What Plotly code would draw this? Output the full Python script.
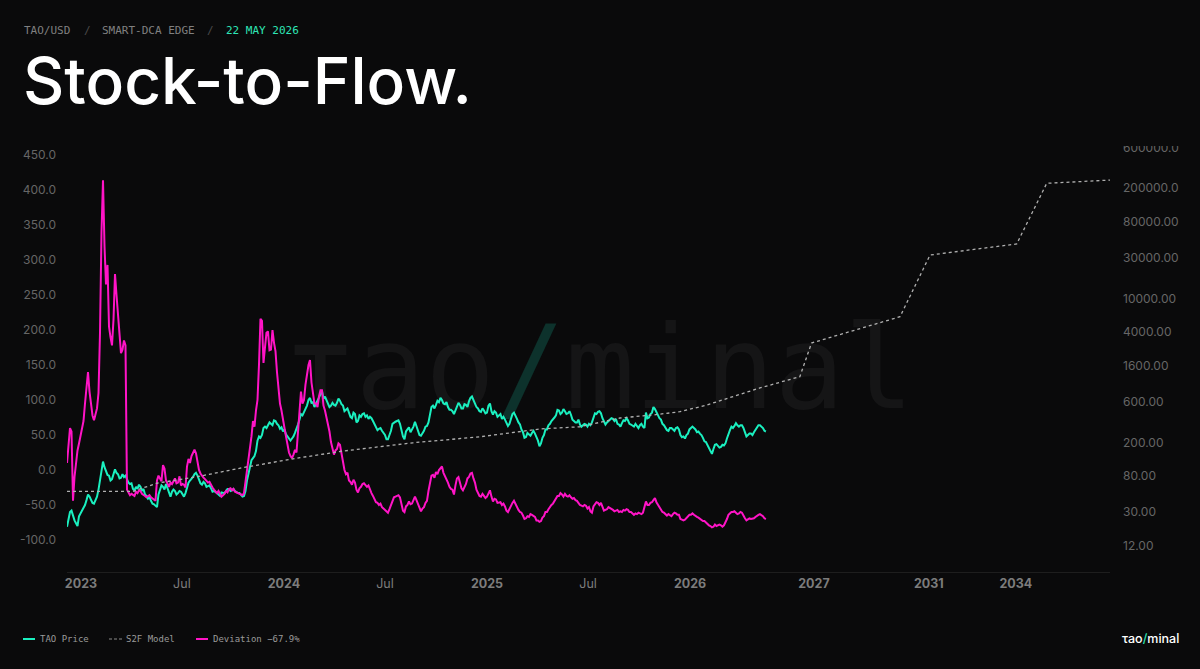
# stock to flow chart, tao/usd

import plotly.graph_objects as go

BG = "#0a0a0b"
TEAL = "#1af0c0"
PINK = "#ff14c6"

# samples, about two per week
tao_price = [
    -81, -68, -60, -58, -66, -72, -76, -80, -66, -62, -60, -56, -50, -43, -35, -38, -42, -47, -48, -44,
    -38, -28, -12, -2, 12, 4, -1, -7, -8, -15, -13, -6, 1, -4, -6, -12, -11, -6, -10, -8,
    -14, -18, -20, -19, -27, -29, -24, -27, -21, -24, -30, -27, -35, -37, -41, -39, -44, -48, -49, -51,
    -53, -35, -27, -22, -24, -28, -20, -26, -35, -38, -31, -28, -30, -35, -33, -30, -31, -35, -38, -33,
    -26, -18, -15, -13, -10, -6, -4, -8, -15, -19, -21, -17, -19, -24, -23, -22, -26, -31, -30, -31,
    -33, -35, -37, -32, -33, -33, -30, -27, -27, -30, -29, -27, -30, -32, -33, -33, -35, -38, -37, -30,
    -15, -6, 3, 14, 17, 20, 27, 42, 48, 46, 50, 60, 62, 60, 64, 68, 66, 64, 71, 70,
    66, 64, 59, 61, 55, 58, 51, 48, 46, 42, 45, 48, 53, 58, 65, 72, 80, 78, 83, 88,
    92, 100, 103, 96, 97, 90, 94, 100, 103, 108, 113, 102, 105, 100, 95, 90, 92, 96, 93, 92,
    96, 102, 99, 94, 92, 84, 86, 88, 82, 76, 74, 82, 80, 68, 70, 78, 76, 80, 81, 76,
    78, 73, 76, 74, 70, 65, 61, 57, 59, 60, 56, 53, 50, 44, 44, 50, 56, 66, 68, 69,
    70, 71, 66, 56, 48, 44, 55, 58, 61, 54, 58, 62, 69, 63, 58, 50, 49, 52, 56, 62,
    63, 68, 78, 90, 92, 88, 93, 99, 97, 103, 100, 95, 94, 97, 90, 86, 86, 84, 80, 85,
    92, 96, 93, 88, 88, 94, 93, 90, 98, 103, 105, 100, 97, 90, 88, 84, 83, 88, 85, 81,
    82, 92, 95, 84, 79, 84, 82, 76, 78, 80, 73, 76, 72, 66, 63, 66, 73, 80, 82, 76,
    73, 68, 65, 58, 54, 46, 47, 53, 51, 49, 53, 56, 52, 47, 42, 34, 38, 46, 50, 58,
    58, 64, 66, 70, 72, 75, 78, 86, 85, 80, 82, 87, 84, 80, 81, 84, 79, 72, 70, 68,
    68, 72, 65, 62, 64, 66, 65, 62, 66, 64, 68, 75, 81, 80, 83, 84, 81, 74, 70, 65,
    68, 70, 71, 74, 73, 70, 73, 66, 65, 62, 67, 71, 70, 74, 71, 66, 65, 63, 62, 66,
    63, 60, 64, 66, 62, 60, 82, 74, 75, 80, 82, 90, 87, 82, 78, 74, 72, 66, 64, 60,
    57, 56, 60, 60, 58, 56, 60, 61, 58, 50, 47, 48, 45, 50, 52, 58, 60, 62, 60, 58,
    54, 55, 52, 50, 46, 41, 40, 36, 30, 28, 23, 30, 36, 37, 35, 32, 33, 36, 35, 38,
    45, 52, 57, 62, 60, 63, 67, 64, 62, 64, 64, 60, 55, 48, 50, 52, 52, 50, 54, 57,
    60, 64, 64, 62, 60, 56, 55,
]

deviation = [
    10, 42, 60, 55, -44, -10, 10, 28, 38, 50, 62, 70, 95, 118, 140, 112, 95, 78, 71, 80,
    88, 110, 196, 340, 414, 320, 265, 293, 205, 190, 178, 215, 280, 250, 220, 200, 167, 172, 185, 178,
    -28, -32, -36, -34, -35, -37, -31, -33, -29, -30, -34, -35, -37, -39, -37, -36, -39, -41, -42, -44,
    -15, -8, -12, -16, 7, 2, -15, -20, -24, -18, -20, -16, -12, -19, -18, -9, -22, -20, -21, -25,
    5, 16, 10, 20, 25, 29, 24, 12, 0, -5, -9, -11, -13, -15, -18, -17, -22, -25, -28, -30,
    -33, -30, -35, -38, -36, -34, -30, -32, -27, -26, -29, -27, -31, -32, -33, -34, -35, -36, -33, -18,
    0, 12, 30, 48, 70, 62, 85, 100, 150, 216, 213, 153, 175, 196, 198, 171, 172, 200, 182, 170,
    140, 118, 95, 85, 70, 60, 48, 35, 25, 20, 17, 22, 29, 25, 50, 80, 112, 95, 100, 122,
    140, 150, 157, 125, 110, 95, 95, 90, 105, 114, 114, 92, 85, 76, 65, 55, 40, 30, 22, 28,
    30, 38, 36, 24, 10, 0, -6, -4, -15, -17, -21, -14, -18, -28, -32, -26, -24, -20, -19, -22,
    -24, -22, -29, -33, -37, -42, -46, -47, -50, -48, -53, -55, -57, -60, -61, -56, -50, -42, -39, -38,
    -37, -36, -39, -50, -58, -60, -52, -50, -45, -49, -48, -43, -38, -43, -48, -55, -59, -55, -53, -47,
    -44, -30, -20, -8, -7, -11, -3, -6, 0, 2, 5, -4, -8, -14, -18, -24, -27, -28, -35, -22,
    -12, -10, -20, -26, -29, -24, -20, -12, -10, -5, -4, -12, -18, -28, -33, -37, -38, -34, -37, -40,
    -38, -32, -29, -38, -45, -41, -42, -47, -47, -46, -50, -48, -52, -58, -60, -55, -52, -47, -44, -49,
    -52, -57, -60, -61, -65, -70, -69, -66, -67, -63, -64, -66, -67, -72, -72, -74, -73, -68, -66, -60,
    -60, -56, -52, -50, -48, -44, -42, -37, -37, -33, -35, -38, -34, -37, -38, -36, -39, -41, -40, -43,
    -44, -47, -50, -51, -52, -50, -51, -55, -53, -59, -61, -52, -48, -46, -47, -50, -47, -52, -58, -57,
    -56, -53, -54, -56, -57, -59, -58, -57, -60, -59, -60, -57, -58, -56, -57, -60, -60, -62, -64, -62,
    -63, -61, -62, -63, -61, -52, -45, -50, -50, -47, -46, -43, -40, -46, -50, -54, -56, -60, -61, -63,
    -65, -63, -64, -66, -63, -61, -62, -64, -64, -70, -71, -72, -71, -69, -67, -64, -64, -62, -64, -66,
    -67, -68, -70, -72, -73, -73, -75, -78, -79, -80, -82, -81, -78, -80, -79, -78, -79, -81, -79, -75,
    -70, -64, -62, -60, -60, -59, -61, -63, -62, -60, -61, -66, -69, -72, -71, -69, -70, -70, -69, -67,
    -65, -64, -63, -64, -66, -69, -70,
]

# s2f model runs on past the price and is only kinked at these samples
s2f_index = [0, 44, 60, 88.6, 120, 155.4, 184, 230.6, 275.4, 315.4, 342, 368.6,
             390.6, 408.6, 426.6, 444, 462, 488.6, 496.4, 555.4, 575.4, 633.2,
             653.2, 695.4]
s2f_model = [53, 53, 66, 80, 103, 132, 158, 198, 233, 288, 306, 388,
             421, 460, 552, 692, 877, 1191, 2972, 6067, 32400, 43750,
             227000, 248000]

x_tick_pos = [9.3, 76.6, 144.6, 212, 280, 347.4, 415.4, 498, 574.6, 632.6]
x_tick_text = ["<b>2023</b>", "Jul", "<b>2024</b>", "Jul", "<b>2025</b>", "Jul",
               "<b>2026</b>", "<b>2027</b>", "<b>2031</b>", "<b>2034</b>"]
left_ticks = [-100, -50, 0, 50, 100, 150, 200, 250, 300, 350, 400, 450]
left_labels = ["-100.0", "-50.0", "0.0", "50.0", "100.0", "150.0", "200.0",
               "250.0", "300.0", "350.0", "400.0", "450.0"]
right_ticks = [12, 30, 80, 200, 600, 1600, 4000, 10000, 30000, 80000, 200000, 600000]
right_labels = ["12.00", "30.00", "80.00", "200.00", "600.00", "1600.00", "4000.00",
                "10000.00", "30000.00", "80000.00", "200000.0", "600000.0"]

L, R, T, B = 67, 1110, 146, 572


def px(x):
    return (x - L) / (R - L)


def py(y):
    return (B - y) / (B - T)


fig = go.Figure()

# watermark goes first so the lines sit on top of it
fig.add_trace(go.Scatter(
    x=[355.3], y=[130], mode="text", cliponaxis=False, showlegend=False, hoverinfo="skip",
    text=['τao<span style="color:#0d322c">/</span>minal'],
    textposition="middle center",
    textfont=dict(family="DejaVu Sans Mono", size=116, color="#151516"),
))
fig.add_trace(go.Scatter(
    x=list(range(len(tao_price))), y=tao_price, mode="lines", name="TAO Price",
    line=dict(color=TEAL, width=2), showlegend=False,
))
fig.add_trace(go.Scatter(
    x=s2f_index, y=s2f_model, mode="lines", name="S2F Model", yaxis="y2",
    line=dict(color="#b0b0b0", width=1.3, dash="3px,3px"), showlegend=False,
))
fig.add_trace(go.Scatter(
    x=list(range(len(deviation))), y=deviation, mode="lines", name="Deviation",
    line=dict(color=PINK, width=2), showlegend=False,
))

mono = "DejaVu Sans Mono"
notes = [
    (23, 30, "TAO/USD", mono, 11, "#808080", 400),
    (83, 30, "/", mono, 11, "#4a4a4a", 400),
    (101, 30, "SMART-DCA EDGE", mono, 11, "#808080", 400),
    (206, 30, "/", mono, 11, "#4a4a4a", 400),
    (225, 30, "22 MAY 2026", mono, 11, "#2ee6b6", 400),
    (22, 81, "Stock-to-Flow.", "Inter", 64, "#ffffff", 500),
    (39, 639, "TAO Price", mono, 9, "#9a9a9a", 400),
    (125, 639, "S2F Model", mono, 9, "#9a9a9a", 400),
    (212, 639, "Deviation −67.9%", mono, 9, "#9a9a9a", 400),
    (1121, 638, 'τao<span style="color:#2ee6b6">/</span>minal', "Inter", 12.5, "#ffffff", 500),
]
for x, y, text, family, size, color, weight in notes:
    fig.add_annotation(
        xref="paper", yref="paper", x=px(x), y=py(y), text=text, showarrow=False,
        xanchor="left", yanchor="middle", borderpad=0,
        font=dict(family=family, size=size, color=color, weight=weight),
    )

fig.update_layout(
    width=1200, height=669,
    margin=dict(l=L, r=1200 - R, t=T, b=669 - B),
    paper_bgcolor=BG, plot_bgcolor=BG,
    font=dict(family="Inter", color="#666666"),
    xaxis=dict(
        range=[0, 695.4], tickmode="array", tickvals=x_tick_pos, ticktext=x_tick_text,
        showgrid=False, zeroline=False, showline=True, linecolor="#1e1e1e", ticks="",
        tickfont=dict(size=12.5, color="#7c7c7c"),
    ),
    yaxis=dict(
        range=[-145.7, 462.9], tickmode="array", tickvals=left_ticks, ticktext=left_labels,
        showgrid=False, zeroline=False, ticks="", ticklabelstandoff=10,
        tickfont=dict(size=12, color="#666666"),
    ),
    yaxis2=dict(
        type="log", range=[0.773, 5.796], overlaying="y", side="right",
        tickmode="array", tickvals=right_ticks, ticktext=right_labels,
        showgrid=False, zeroline=False, ticks="", ticklabelstandoff=12,
        tickfont=dict(size=12, color="#666666"),
    ),
    shapes=[
        # legend keys
        dict(type="line", xref="paper", yref="paper", x0=px(23), x1=px(35), y0=py(639), y1=py(639),
             line=dict(color=TEAL, width=2)),
        dict(type="line", xref="paper", yref="paper", x0=px(109), x1=px(122), y0=py(639), y1=py(639),
             line=dict(color="#8a8a8a", width=1, dash="3px,2px")),
        dict(type="line", xref="paper", yref="paper", x0=px(196), x1=px(208), y0=py(639), y1=py(639),
             line=dict(color=PINK, width=2)),
        # top right tick label is cut off in the original
        dict(type="rect", xref="paper", yref="paper", x0=px(1112), x1=px(1200), y0=py(146), y1=py(130),
             fillcolor=BG, line=dict(width=0), layer="above"),
    ],
)

fig.write_html(
    "out.html",
    config={"displayModeBar": False},
    post_script="document.body.style.margin='0';document.body.style.background='#0a0a0b';",
)
